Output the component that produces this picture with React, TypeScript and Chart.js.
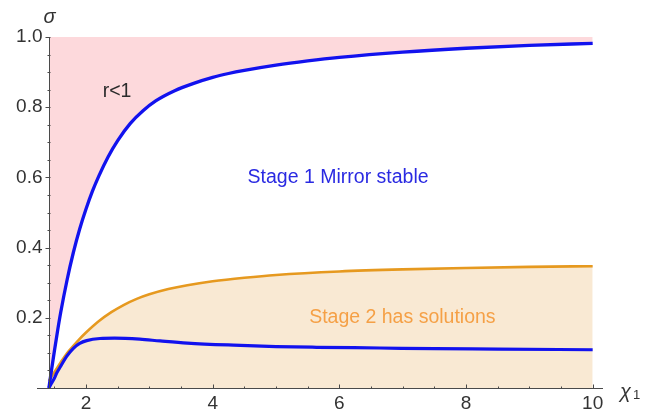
import React, { useEffect, useRef } from 'react';
import { Chart, registerables } from 'chart.js';

Chart.register(...registerables);

// ---- data ----
const upperBlueX = [1.414, 1.45, 1.5, 1.55, 1.6, 1.7, 1.8, 1.9, 2.0, 2.1, 2.2, 2.35, 2.5, 2.7, 2.9, 3.1, 3.4, 3.7, 4.0, 4.25, 4.5, 5.0, 5.5, 6.0, 7.0, 8.0, 9.0, 10.0];
const upperBlueY = [0.0, 0.045, 0.105, 0.162, 0.215, 0.307, 0.386, 0.453, 0.51, 0.56, 0.603, 0.659, 0.705, 0.754, 0.79, 0.818, 0.847, 0.868, 0.885, 0.896, 0.905, 0.92, 0.932, 0.942, 0.957, 0.968, 0.976, 0.982];

const orangeX = [1.414, 1.5, 1.6, 1.7, 1.8, 1.9, 2.0, 2.2, 2.4, 2.6, 2.8, 3.0, 3.3, 3.6, 4.0, 4.5, 5.0, 6.0, 7.0, 8.0, 9.0, 10.0];
const orangeY = [0.02, 0.045, 0.073, 0.099, 0.12, 0.14, 0.158, 0.19, 0.216, 0.237, 0.254, 0.267, 0.282, 0.293, 0.304, 0.314, 0.322, 0.332, 0.338, 0.342, 0.345, 0.347];

const lowerBlueX = [1.414, 1.45, 1.5, 1.535, 1.6, 1.694, 1.8, 1.9, 2.01, 2.22, 2.45, 2.85, 3.17, 3.6, 4.33, 5.0, 5.64, 6.64, 7.5, 8.5, 10.0];
const lowerBlueY = [0.0, 0.012, 0.028, 0.042, 0.062, 0.09, 0.113, 0.127, 0.135, 0.141, 0.142, 0.139, 0.134, 0.128, 0.122, 0.118, 0.116, 0.114, 0.112, 0.111, 0.109];

const xMajorTicks = [2, 4, 6, 8, 10];
const xTickLabels = ['2', '4', '6', '8', '10'];
const xMinorTicks = [1.5, 2.5, 3, 3.5, 4.5, 5, 5.5, 6.5, 7, 7.5, 8.5, 9, 9.5];
const yMajorTicks = [0.2, 0.4, 0.6, 0.8, 1.0];
const yTickLabels = ['0.2', '0.4', '0.6', '0.8', '1.0'];
const yMinorTicks = [0.05, 0.1, 0.15, 0.25, 0.3, 0.35, 0.45, 0.5, 0.55, 0.65, 0.7, 0.75, 0.85, 0.9, 0.95];

const regionLabels = ['r<1', 'Stage 1 Mirror stable', 'Stage 2 has solutions'];
const regionLabelX = [2.49, 5.98, 6.995];
const regionLabelY = [0.843, 0.6, 0.2];

const yAxisLabel = 'σ';
const xAxisLabel = 'χ';
const xAxisSub = '1';

// ---- styling ----
const X_MIN = 1.226;
const X_MAX = 10.163;
const Y_AXIS_AT = 1.414;
const FONT = "'Liberation Sans', Arial, sans-serif";
const AXIS_COLOR = '#4a4a4a';
const TEXT_COLOR = '#333333';
const BLUE = '#1212ee';
const ORANGE = '#e6991f';
const PINK = '#fdd9dc';
const TAN = '#f9e9d3';
const labelColors = ['#2b2b2b', '#2a2ae2', '#f5a046'];

const toPts = (xs: number[], ys: number[]) => xs.map((x, i) => ({ x, y: ys[i] }));

const axesPlugin = {
  id: 'mmaAxes',
  afterDraw(chart: any) {
    const { ctx } = chart;
    const xs = chart.scales.x;
    const ys = chart.scales.y;
    const x0 = Math.round(xs.getPixelForValue(Y_AXIS_AT)) + 0.5;
    const y0 = Math.round(ys.getPixelForValue(0)) + 0.5;
    const yTop = ys.getPixelForValue(1);
    ctx.save();
    ctx.strokeStyle = AXIS_COLOR;
    ctx.lineWidth = 1;
    ctx.beginPath();
    ctx.moveTo(xs.left, y0);
    ctx.lineTo(xs.right, y0);
    ctx.moveTo(x0, y0);
    ctx.lineTo(x0, yTop);
    ctx.stroke();

    // x ticks
    ctx.beginPath();
    xMajorTicks.forEach((v) => {
      const p = Math.round(xs.getPixelForValue(v)) + 0.5;
      ctx.moveTo(p, y0);
      ctx.lineTo(p, y0 - 4);
    });
    xMinorTicks.forEach((v) => {
      const p = Math.round(xs.getPixelForValue(v)) + 0.5;
      ctx.moveTo(p, y0);
      ctx.lineTo(p, y0 - 2);
    });
    // y ticks
    yMajorTicks.forEach((v) => {
      const p = Math.round(ys.getPixelForValue(v)) + 0.5;
      ctx.moveTo(x0 - 4, p);
      ctx.lineTo(x0 + 1, p);
    });
    yMinorTicks.forEach((v) => {
      const p = Math.round(ys.getPixelForValue(v)) + 0.5;
      ctx.moveTo(x0 - 2, p);
      ctx.lineTo(x0 + 1, p);
    });
    ctx.stroke();

    // tick labels
    ctx.fillStyle = TEXT_COLOR;
    ctx.font = `19px ${FONT}`;
    ctx.textAlign = 'center';
    ctx.textBaseline = 'middle';
    xMajorTicks.forEach((v, i) => {
      ctx.fillText(xTickLabels[i], xs.getPixelForValue(v), y0 + 15);
    });
    ctx.textAlign = 'right';
    yMajorTicks.forEach((v, i) => {
      ctx.fillText(yTickLabels[i], x0 - 7, ys.getPixelForValue(v));
    });

    // axis labels
    ctx.font = `italic 20px ${FONT}`;
    ctx.textAlign = 'center';
    ctx.textBaseline = 'alphabetic';
    ctx.fillText(yAxisLabel, x0, yTop - 14);
    ctx.textAlign = 'left';
    ctx.fillText(xAxisLabel, xs.right + 17, y0 + 9);
    ctx.font = `13px ${FONT}`;
    ctx.fillText(xAxisSub, xs.right + 30, y0 + 10);

    // region labels
    ctx.font = `19.5px ${FONT}`;
    ctx.textAlign = 'center';
    ctx.textBaseline = 'middle';
    regionLabels.forEach((t, i) => {
      ctx.fillStyle = labelColors[i];
      ctx.fillText(t, xs.getPixelForValue(regionLabelX[i]), ys.getPixelForValue(regionLabelY[i]));
    });
    ctx.restore();
  },
};

export default function App() {
  const ref = useRef<HTMLCanvasElement | null>(null);
  useEffect(() => {
    if (!ref.current) return;
    const chart = new Chart(ref.current, {
      type: 'line',
      data: {
        datasets: [
          {
            label: 'upperBlue',
            data: toPts(upperBlueX, upperBlueY),
            borderColor: BLUE,
            borderWidth: 3.3,
            backgroundColor: PINK,
            fill: 'end',
            pointRadius: 0,
            cubicInterpolationMode: 'monotone',
            clip: 4,
          },
          {
            label: 'lowerBlue',
            data: toPts(lowerBlueX, lowerBlueY),
            borderColor: BLUE,
            borderWidth: 3.2,
            fill: false,
            pointRadius: 0,
            cubicInterpolationMode: 'monotone',
            clip: 4,
          },
          {
            label: 'orange',
            data: toPts(orangeX, orangeY),
            borderColor: ORANGE,
            borderWidth: 2.6,
            backgroundColor: TAN,
            fill: 'origin',
            pointRadius: 0,
            cubicInterpolationMode: 'monotone',
            clip: 4,
          },
        ],
      },
      options: {
        responsive: false,
        animation: false,
        devicePixelRatio: 1,
        layout: { padding: { left: 37, right: 48, top: 37, bottom: 25 } },
        plugins: { legend: { display: false }, tooltip: { enabled: false } },
        scales: {
          x: { type: 'linear', min: X_MIN, max: X_MAX, display: false },
          y: { type: 'linear', min: 0, max: 1, display: false },
        },
      } as any,
      plugins: [axesPlugin],
    });
    return () => chart.destroy();
  }, []);
  return (
    <div style={{ position: 'absolute', left: 0, top: 0, width: 651, height: 413, background: '#fff' }}>
      <canvas ref={ref} width={651} height={413} />
    </div>
  );
}
